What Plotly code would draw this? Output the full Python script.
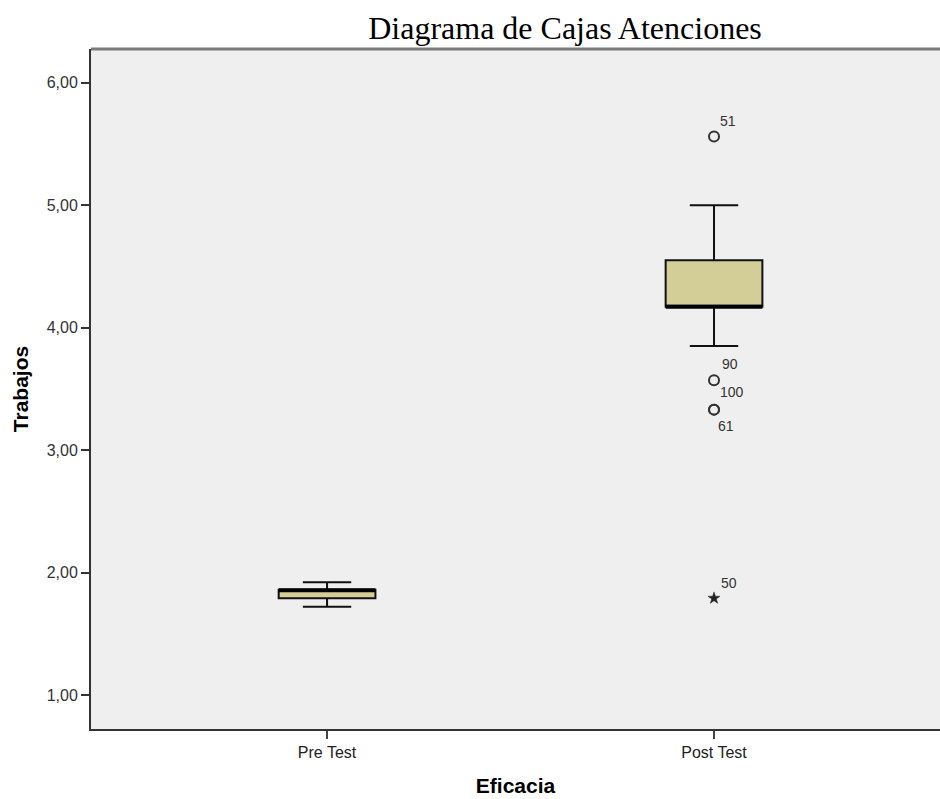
import plotly.graph_objects as go

# ---- data ----
categories = ["Pre Test", "Post Test"]
q1_vals = [1.79, 4.17]
median_vals = [1.855, 4.17]
q3_vals = [1.86, 4.55]
lower_fence = [1.72, 3.85]
upper_fence = [1.92, 5.00]

# outliers (Post Test)
outlier_values = [5.56, 3.57, 3.33, 3.33]
outlier_labels = ["51", "90", "100", "61"]
extreme_values = [1.79]
extreme_labels = ["50"]
outlier_cat = 1

# ---- style ----
BOX_W = 0.25
FILL = "#D3CE98"
positions = list(range(len(categories)))

fig = go.Figure()

for i, pos in enumerate(positions):
    fig.add_trace(go.Box(
        x=[pos], q1=[q1_vals[i]], median=[median_vals[i]], q3=[q3_vals[i]],
        lowerfence=[lower_fence[i]], upperfence=[upper_fence[i]],
        width=BOX_W, whiskerwidth=0.5, fillcolor=FILL,
        line=dict(color="#111111", width=2), boxpoints=False,
        showlegend=False, hoverinfo="skip",
    ))
    # thick median line (SPSS style)
    fig.add_trace(go.Scatter(
        x=[pos - BOX_W / 2, pos + BOX_W / 2], y=[median_vals[i], median_vals[i]],
        mode="lines", line=dict(color="#000000", width=4),
        showlegend=False, hoverinfo="skip",
    ))

fig.add_trace(go.Scatter(
    x=[positions[outlier_cat]] * len(outlier_values), y=outlier_values,
    mode="markers",
    marker=dict(symbol="circle-open", size=10, color="#333333", line=dict(width=2, color="#333333")),
    showlegend=False, hoverinfo="skip",
))
fig.add_trace(go.Scatter(
    x=[positions[outlier_cat]] * len(extreme_values), y=extreme_values,
    mode="markers",
    marker=dict(symbol="star", size=9, color="#222222", line=dict(width=0.5, color="#222222")),
    showlegend=False, hoverinfo="skip",
))

label_shifts = {"51": (14, 16), "90": (16, 16), "100": (18, 18), "61": (12, -16), "50": (15, 15)}
for v, lab in list(zip(outlier_values, outlier_labels)) + list(zip(extreme_values, extreme_labels)):
    xs, ys = label_shifts[lab]
    fig.add_annotation(
        x=positions[outlier_cat], y=v, text=lab, showarrow=False,
        xshift=xs, yshift=ys, xanchor="center", yanchor="middle",
        font=dict(family="Liberation Sans, Arial, sans-serif", size=14, color="#333333"),
    )

# top frame line
fig.add_shape(type="line", xref="paper", yref="paper", x0=0, x1=1, y0=1, y1=1,
              line=dict(color="#7a7a7a", width=3))

fig.update_layout(
    width=940, height=799,
    margin=dict(l=91, r=0, t=49, b=70),
    paper_bgcolor="white", plot_bgcolor="#EFEFEF",
    separators=",.",
    title=dict(text="Diagrama de Cajas Atenciones", x=565 / 940, xanchor="center",
               xref="container", yref="container", y=1 - 28 / 799, yanchor="middle",
               font=dict(family="Liberation Serif, Times New Roman, serif", size=32, color="#000000")),
    xaxis=dict(
        range=[-0.61, 1.584], tickvals=positions, ticktext=categories,
        showgrid=False, zeroline=False, showline=True, linecolor="#333333", linewidth=2,
        ticks="outside", ticklen=8, tickwidth=2, tickcolor="#444444",
        tickfont=dict(family="Liberation Sans, Arial, sans-serif", size=16, color="#222222"),
        title=dict(text="<b>Eficacia</b>", standoff=18,
                   font=dict(family="Liberation Sans, Arial, sans-serif", size=21, color="#000000")),
    ),
    yaxis=dict(
        range=[0.722, 6.275], tickvals=[1, 2, 3, 4, 5, 6], tickformat=".2f",
        showgrid=False, zeroline=False, showline=True, linecolor="#333333", linewidth=2,
        ticks="outside", ticklen=8, tickwidth=2, tickcolor="#333333",
        tickfont=dict(family="Liberation Sans, Arial, sans-serif", size=16, color="#333333"),
        title=dict(text="<b>Trabajos</b>", standoff=12,
                   font=dict(family="Liberation Sans, Arial, sans-serif", size=21, color="#000000")),
    ),
)

fig.write_html("out.html")
